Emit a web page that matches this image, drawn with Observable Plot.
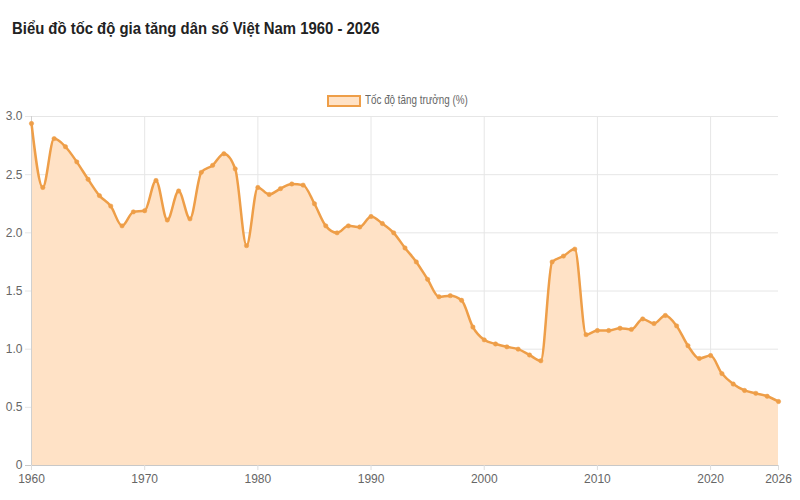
<!DOCTYPE html>
<html>
<head>
<meta charset="utf-8">
<script src="https://cdn.jsdelivr.net/npm/d3@7"></script>
<script src="https://cdn.jsdelivr.net/npm/@observablehq/plot@0.6"></script>
<style>
  html, body { margin: 0; padding: 0; background: #fff; }
  body { width: 800px; height: 500px; overflow: hidden; font-family: "Liberation Sans", Arial, sans-serif; }
  #head { position: relative; height: 106px; }
  #title { position: absolute; left: 12px; top: 19px; font-size: 17px; font-weight: bold; color: #222; white-space: nowrap; transform: scaleX(0.875); transform-origin: 0 0; }
  #legend { position: absolute; left: 327px; top: 93px; font-size: 12px; color: #666; white-space: nowrap; height: 14px; }
  #legend .sw { position: absolute; left: 0; top: 2px; width: 30px; height: 8px; background: #FFE2C6; border: 2px solid #EE9E48; }
  #legend .t { position: absolute; left: 38px; top: 0; transform: scaleX(0.82); transform-origin: 0 0; line-height: 14px; }
</style>
</head>
<body>
<div id="head">
  <div id="title">Biểu đồ tốc độ gia tăng dân số Việt Nam 1960 - 2026</div>
  <div id="legend"><span class="sw"></span><span class="t">Tốc độ tăng trưởng (%)</span></div>
</div>
<div id="chart"></div>
<script>
const years = [
  1960,1961,1962,1963,1964,1965,1966,1967,1968,1969,
  1970,1971,1972,1973,1974,1975,1976,1977,1978,1979,
  1980,1981,1982,1983,1984,1985,1986,1987,1988,1989,
  1990,1991,1992,1993,1994,1995,1996,1997,1998,1999,
  2000,2001,2002,2003,2004,2005,2006,2007,2008,2009,
  2010,2011,2012,2013,2014,2015,2016,2017,2018,2019,
  2020,2021,2022,2023,2024,2025,2026
];
const growth = [
  2.94,2.39,2.81,2.74,2.61,2.46,2.32,2.23,2.06,2.18,
  2.19,2.45,2.11,2.36,2.12,2.52,2.58,2.68,2.55,1.89,
  2.39,2.33,2.38,2.42,2.41,2.25,2.06,2.00,2.06,2.05,
  2.14,2.08,2.00,1.87,1.75,1.60,1.45,1.46,1.42,1.19,
  1.08,1.045,1.02,1.00,0.95,0.90,1.75,1.80,1.86,1.125,
  1.16,1.16,1.18,1.17,1.26,1.22,1.29,1.20,1.03,0.92,
  0.945,0.79,0.70,0.645,0.62,0.595,0.55
];
const xTicks = [1960,1970,1980,1990,2000,2010,2020,2026];
const xGrid = [1970,1980,1990,2000,2010,2020];
const yTicks = [0,0.5,1.0,1.5,2.0,2.5,3.0];
const seriesName = "Tốc độ tăng trưởng (%)";

const data = years.map((y, i) => ({year: y, value: growth[i]}));
const lineColor = "#EE9E48";
const fillColor = "#FFE2C6";
const fontFam = '"Liberation Sans", Arial, sans-serif';

const chart = Plot.plot({
  width: 800,
  height: 394,
  marginTop: 10,
  marginBottom: 35,
  marginLeft: 31,
  marginRight: 22,
  style: {fontFamily: fontFam, fontSize: "12px", background: "#fff"},
  x: {domain: [1960, 2026], label: null},
  y: {domain: [0, 3], label: null},
  marks: [
    Plot.gridY(yTicks.slice(1), {stroke: "#e6e6e6", strokeOpacity: 1, insetLeft: -6}),
    Plot.gridX(xGrid, {stroke: "#e6e6e6", strokeOpacity: 1}),
    Plot.areaY(data, {x: "year", y: "value", fill: fillColor, fillOpacity: 1, curve: "monotone-x"}),
    Plot.ruleY([0], {stroke: "#c8c8c8", insetLeft: -6}),
    Plot.ruleX([1960], {stroke: "#d0d0d0"}),
    Plot.lineY(data, {x: "year", y: "value", stroke: lineColor, strokeWidth: 2.5, curve: "monotone-x"}),
    Plot.dot(data, {x: "year", y: "value", r: 2.2, fill: lineColor, stroke: lineColor, strokeWidth: 0.5}),
    Plot.axisY(yTicks, {tickSize: 0, tickPadding: 9, fill: "#666", tickFormat: d => d === 0 ? "0" : d.toFixed(1)}),
    Plot.axisX(xTicks, {tickSize: 5, stroke: "#ddd", tickPadding: 4, fill: "#666", tickFormat: d => String(d)})
  ]
});
document.getElementById("chart").appendChild(chart);
</script>
</body>
</html>
